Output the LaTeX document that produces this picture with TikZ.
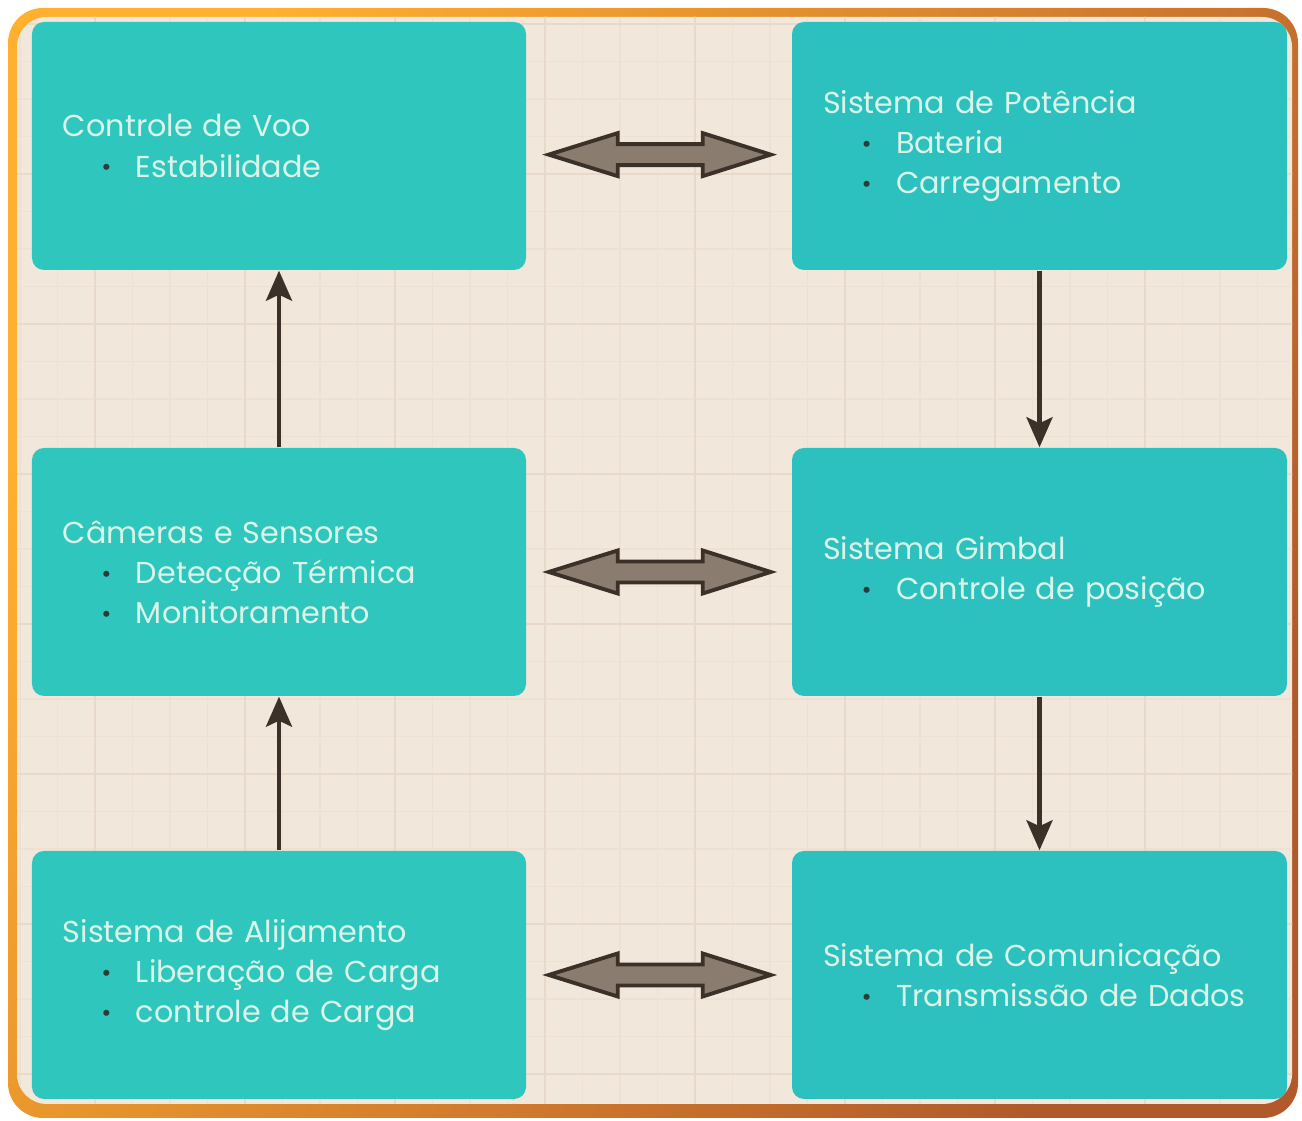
\documentclass[tikz,border=0pt]{standalone}
\usepackage{fontspec}
\setmainfont{Poppins}
\usepackage{tikz}
\usetikzlibrary{arrows.meta,positioning,calc}
\definecolor{frameA}{HTML}{FFB02E}
\definecolor{frameB}{HTML}{B2592C}
\definecolor{paper}{HTML}{F2E7DB}
\definecolor{minorline}{HTML}{EEE1D4}
\definecolor{majorline}{HTML}{E8D9CB}
\definecolor{tealL}{HTML}{2FC6BD}
\definecolor{tealR}{HTML}{2CC0BF}
\definecolor{mint}{HTML}{DAF5E8}
\definecolor{dotc}{HTML}{2A3B38}
\definecolor{umber}{HTML}{3C3129}
\definecolor{taupe}{HTML}{8A7D70}
\newcommand{\itm}[1]{\\\hspace*{0.385cm}\makebox[0.345cm][l]{\textcolor{dotc}{\raisebox{0.3pt}{\scriptsize\textbullet}}}#1}
\newcommand{\biarrow}[1]{%
  \draw[biarrow] ($(#1)+(0.22,0)$) -- ++(0.69,0.215) -- ++(0,-0.11)
    -- ++(0.85,0) -- ++(0,0.11) -- ++(0.68,-0.215) -- ++(-0.68,-0.215)
    -- ++(0,0.11) -- ++(-0.85,0) -- ++(0,-0.11) -- cycle;}

\begin{document}
\begin{tikzpicture}[
  every node/.style={font=\fontsize{8.6}{11.4}\selectfont},
  block/.style={rectangle,rounded corners=0.12cm,text=mint,align=left,
    text width=4.32cm,inner xsep=0.31cm,minimum height=2.48cm},
  link/.style={-{Stealth[length=3mm,width=2.6mm,inset=0.6mm]},line width=1.3pt,umber},
  biarrow/.style={draw=umber,fill=taupe,line width=1.1pt,line join=miter}
]
\useasboundingbox (0,0) rectangle (13.02,11.21);
% frame and paper
\shade[left color=frameA,right color=frameB,shading angle=60,rounded corners=0.35cm]
  (0.08,0.03) rectangle (12.98,11.13);
\fill[paper,rounded corners=0.3cm] (0.17,0.17) rectangle (12.92,11.04);
\begin{scope}
  \clip[rounded corners=0.3cm] (0.17,0.17) rectangle (12.92,11.04);
  \begin{scope}[xshift=0.95cm,yshift=0.47cm]
    \draw[minorline,line width=0.4pt,step=0.375] (-1.5,-1.5) grid (12.5,11);
    \draw[majorline,line width=0.6pt,step=1.5] (-1.5,-1.5) grid (12.5,11);
  \end{scope}
\end{scope}

% blocks
\node[block,fill=tealL] (voo) at (2.79,9.75)
  {Controle de Voo\itm{Estabilidade}};
\node[block,fill=tealR,text width=4.33cm] (potencia) at (10.395,9.75)
  {Sistema de Potência\itm{Bateria}\itm{Carregamento}};
\node[block,fill=tealL] (cameras) at (2.79,5.49)
  {Câmeras e Sensores\itm{Detecção Térmica}\itm{Monitoramento}};
\node[block,fill=tealR,text width=4.33cm] (gimbal) at (10.395,5.49)
  {Sistema Gimbal\itm{Controle de posição}};
\node[block,fill=tealL] (alijamento) at (2.79,1.46)
  {Sistema de Alijamento\itm{Liberação de Carga}\itm{controle de Carga}};
\node[block,fill=tealR,text width=4.33cm] (comunic) at (10.395,1.46)
  {Sistema de Comunicação\itm{Transmissão de Dados}};

% connectors
\draw[link] (cameras.north) -- (voo.south);
\draw[link] (alijamento.north) -- (cameras.south);
\draw[link] (potencia.south) -- (gimbal.north);
\draw[link] (gimbal.south) -- (comunic.north);
\biarrow{voo.-2.55}
\biarrow{cameras.east}
\biarrow{alijamento.east}
\end{tikzpicture}
\end{document}
